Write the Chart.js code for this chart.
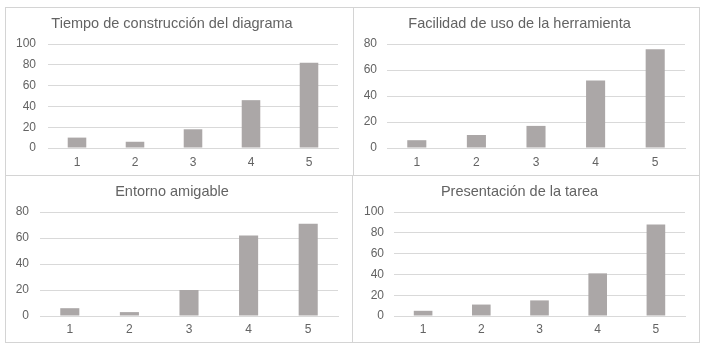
<!DOCTYPE html>
<html lang="es">
<head>
<meta charset="UTF-8">
<title>Encuesta</title>
<script src="https://cdn.jsdelivr.net/npm/chart.js@4.4.1/dist/chart.umd.min.js"></script>
<style>
    body { margin: 0; background: #fff; width: 707px; height: 348px; position: relative; overflow: hidden; }
    .panel { position: absolute; }
    .line { position: absolute; background: #d4d4d4; }
</style>
</head>
<body>
<div class="line" style="left:5px;top:7px;width:695px;height:1px"></div>
<div class="line" style="left:5px;top:342px;width:695px;height:1px"></div>
<div class="line" style="left:5px;top:7px;width:1px;height:336px"></div>
<div class="line" style="left:699px;top:7px;width:1px;height:336px"></div>
<div class="line" style="left:353px;top:7px;width:1px;height:168px"></div>
<div class="line" style="left:352px;top:175px;width:1px;height:168px"></div>
<div class="line" style="left:5px;top:175px;width:695px;height:1px"></div>

<div class="panel" style="left:6px;top:8px;width:346px;height:166px"><canvas id="c1"></canvas></div>
<div class="panel" style="left:354px;top:8px;width:344px;height:166px"><canvas id="c2"></canvas></div>
<div class="panel" style="left:6px;top:176px;width:346px;height:165px"><canvas id="c3"></canvas></div>
<div class="panel" style="left:354px;top:176px;width:344px;height:165px"><canvas id="c4"></canvas></div>

<script>
    const categories = ['1', '2', '3', '4', '5'];
    const tiempoValues = [10, 6, 18, 46, 82];
    const facilidadValues = [6, 10, 17, 52, 76];
    const entornoValues = [6, 3, 20, 62, 71];
    const presentacionValues = [5, 11, 15, 41, 88];
    const chartTitles = ['Tiempo de construcción del diagrama', 'Facilidad de uso de la herramienta', 'Entorno amigable', 'Presentación de la tarea'];
    const yMaxes = [100, 80, 80, 100];

    const barColor = '#aba7a7';
    const textColor = '#636363';
    const gridColor = '#d9d9d9';

    // plot area per panel: y axis width, right padding, x axis height, label gap
    const panels = [
        { id: 'c1', data: tiempoValues, yWidth: 42, right: 14, xHeight: 26, gap: 12, xPad: 7 },
        { id: 'c2', data: facilidadValues, yWidth: 33, right: 13, xHeight: 26, gap: 10, xPad: 7 },
        { id: 'c3', data: entornoValues, yWidth: 34, right: 14, xHeight: 25, gap: 11, xPad: 6 },
        { id: 'c4', data: presentacionValues, yWidth: 40, right: 13, xHeight: 25, gap: 10, xPad: 6 }
    ];

    Chart.defaults.font.family = '"Liberation Sans", Arial, sans-serif';
    Chart.defaults.color = textColor;

    panels.forEach(function (p, i) {
        const ctx = document.getElementById(p.id).getContext('2d');
        new Chart(ctx, {
            type: 'bar',
            data: {
                labels: categories,
                datasets: [{
                    data: p.data,
                    backgroundColor: barColor,
                    borderWidth: 0,
                    categoryPercentage: 1,
                    barPercentage: 0.32
                }]
            },
            options: {
                responsive: true,
                maintainAspectRatio: false,
                animation: false,
                layout: { padding: { left: 0, right: p.right, top: 0, bottom: 0 } },
                plugins: {
                    legend: { display: false },
                    tooltip: { enabled: false },
                    title: {
                        display: true,
                        text: chartTitles[i],
                        color: textColor,
                        font: { size: 14.5, weight: 'normal' },
                        padding: { top: 7.3, bottom: 11.3 }
                    }
                },
                scales: {
                    x: {
                        grid: { display: false, drawTicks: false },
                        border: { display: true, color: gridColor },
                        ticks: { font: { size: 12 }, padding: p.xPad, color: textColor },
                        afterFit: function (scale) { scale.height = p.xHeight; }
                    },
                    y: {
                        min: 0,
                        max: yMaxes[i],
                        grid: { color: gridColor, drawTicks: false },
                        border: { display: false },
                        ticks: { stepSize: 20, font: { size: 12 }, padding: p.gap, color: textColor },
                        afterFit: function (scale) { scale.width = p.yWidth; }
                    }
                }
            }
        });
    });
</script>
</body>
</html>
